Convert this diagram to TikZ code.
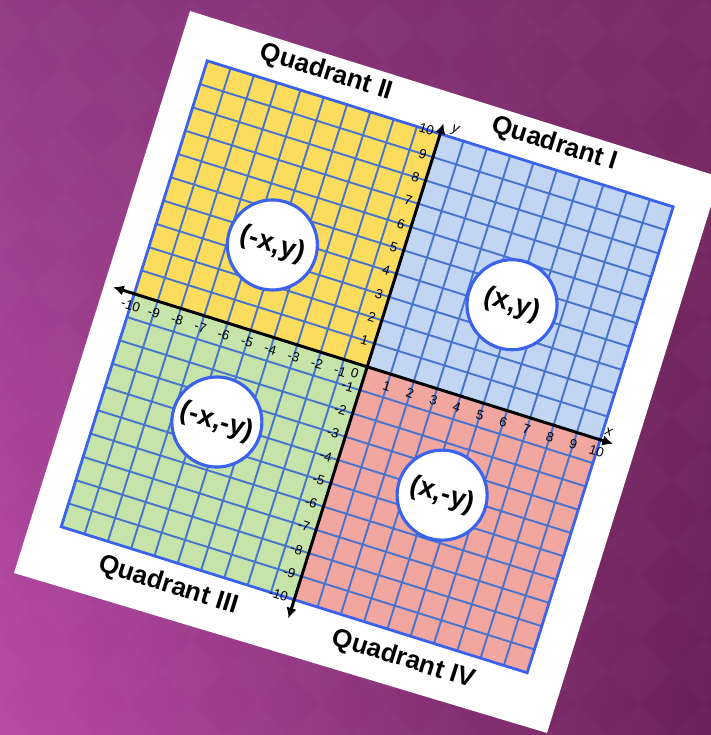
\documentclass[tikz,border=0pt]{standalone}
\usepackage{fontspec}
\setmainfont{Liberation Sans}
\usetikzlibrary{arrows.meta, shadings}
\definecolor{bgtopleft}{RGB}{146,58,132}
\definecolor{bgtopright}{RGB}{120,42,102}
\definecolor{bgbotleft}{RGB}{184,74,166}
\definecolor{bgbotright}{RGB}{104,32,86}
\definecolor{quadone}{RGB}{194,214,243}
\definecolor{quadtwo}{RGB}{252,220,92}
\definecolor{quadthree}{RGB}{198,228,170}
\definecolor{quadfour}{RGB}{242,166,160}
\definecolor{gridblue}{RGB}{72,116,206}
\definecolor{edgeblue}{RGB}{58,98,236}
\tikzset{
  gridline/.style   = {draw=gridblue, line width=0.55pt},
  border/.style     = {draw=edgeblue, line width=0.8pt},
  axisline/.style   = {{Latex[length=3pt,width=3pt]}-{Latex[length=3pt,width=3pt]},
                       line width=0.85pt, draw=black},
  tick/.style       = {font=\fontsize{3.8}{4}\selectfont, inner sep=0pt},
  axisletter/.style = {font=\itshape\fontsize{4}{4}\selectfont, inner sep=0pt},
  quadlabel/.style  = {font=\bfseries\fontsize{7.4}{8}\selectfont, inner sep=0pt},
  pairbubble/.style = {circle, draw=edgeblue, line width=0.9pt, fill=white,
                       minimum size=0.9cm, inner sep=0pt,
                       font=\bfseries\fontsize{7.9}{8}\selectfont},
}

\begin{document}
\begin{tikzpicture}[x=0.01cm, y=0.01cm]
  \useasboundingbox (0,0) rectangle (711,735);
  % purple backdrop
  \shade[upper left=bgtopleft, upper right=bgtopright,
         lower left=bgbotleft, lower right=bgbotright] (0,0) rectangle (711,735);
  \begin{scope}
    \clip (0,0) rectangle (711,735);
    \foreach \i in {0,...,12}
      \foreach \j in {0,...,12}
        \fill[white, opacity=0.015] ({64*\i},{64*\j-32}) -- ++(32,32) -- ++(-32,32)
          -- ++(-32,-32) -- cycle;
  \end{scope}
  % the card
  \fill[white] (190,724) -- (720,558) -- (547,2) -- (14,162) -- cycle;

  \begin{scope}[shift={(3.67cm,3.68cm)}, rotate=-17.4, x=0.244cm, y=0.244cm,
                transform shape]
    \fill[quadone]   (0,0)     rectangle (10,10);
    \fill[quadtwo]   (-10,0)   rectangle (0,10);
    \fill[quadthree] (-10,-10) rectangle (0,0);
    \fill[quadfour]  (0,-10)   rectangle (10,0);
    \foreach \k in {-9,...,9} {
      \draw[gridline] (\k,-10) -- (\k,10);
      \draw[gridline] (-10,\k) -- (10,\k);
    }
    \draw[border] (-10,-10) rectangle (10,10);

    % axes
    \coordinate (xmin) at (-10.9,0);
    \coordinate (xmax) at (10.55,0);
    \coordinate (ymin) at (0,-10.8);
    \coordinate (ymax) at (0,10.45);
    \draw[axisline] (xmin) -- (xmax);
    \draw[axisline] (ymin) -- (ymax);
    \node[axisletter] (xname) at (10.25,0.4) {x};
    \node[axisletter] (yname) at (0.55,10.3) {y};

    \foreach \k [count=\n] in {-10,...,-1,1,2,...,10} {
      \node[tick] (xt\n) at (\k,-0.5) {\k};
      \node[tick, anchor=east] (yt\n) at (-0.25,\k) {\k};
    }
    \node[tick] (zero) at (-0.4,-0.42) {0};

    % ordered pairs
    \node[pairbubble] (pairI)   at (4.9,4.2)   {(x,y)};
    \node[pairbubble] (pairII)  at (-5.2,3.6)  {(-x,y)};
    \node[pairbubble] (pairIII) at (-5.2,-4.0) {(-x,-y)};
    \node[pairbubble] (pairIV)  at (4.5,-4.1)  {(x,-y)};

    % quadrant names
    \node[quadlabel] (nameI)   at (4.6,11)   {Quadrant I};
    \node[quadlabel] (nameII)  at (-5.2,11)  {Quadrant II};
    \node[quadlabel] (nameIII) at (-5.1,-11) {Quadrant III};
    \node[quadlabel] (nameIV)  at (5.0,-11)  {Quadrant IV};
  \end{scope}
\end{tikzpicture}
\end{document}
